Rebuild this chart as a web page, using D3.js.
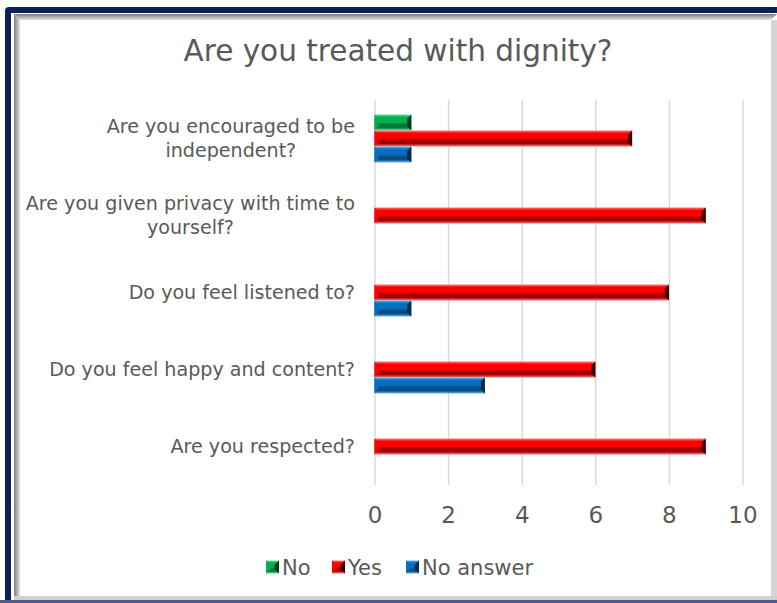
<!DOCTYPE html>
<html>
<head>
<meta charset="utf-8">
<script src="https://cdn.jsdelivr.net/npm/d3@7"></script>
<style>
  html, body { margin: 0; padding: 0; background: #ffffff; }
  svg { display: block; }
  text { font-family: "DejaVu Sans", sans-serif; fill: #595959; }
</style>
</head>
<body>
<svg id="chart" width="777" height="603"></svg>
<script>
// Survey answers per question
const categories = [
  "Are you encouraged to be\nindependent?",
  "Are you given privacy with time to\nyourself?",
  "Do you feel listened to?",
  "Do you feel happy and content?",
  "Are you respected?"
];
const seriesNames = ["No", "Yes", "No answer"];
const noValues = [1, 0, 0, 0, 0];
const yesValues = [7, 9, 8, 6, 9];
const noAnswerValues = [1, 0, 1, 3, 0];
const xTicks = [0, 2, 4, 6, 8, 10];
const titleText = "Are you treated with dignity?";

const seriesValues = [noValues, yesValues, noAnswerValues];
const palette = {
  "No":        { light: "#5fe09a", base: "#00b050", dark: "#007a3c", edge: "#003a1c" },
  "Yes":       { light: "#ff7a7a", base: "#ff0000", dark: "#a80000", edge: "#3a0000" },
  "No answer": { light: "#62b4ee", base: "#0070c0", dark: "#0b4c84", edge: "#0a2a48" }
};

const svg = d3.select("#chart");
const W = 777, H = 603;

// ---- frame: navy outer border with grey bevelled inner panel ----
const defs = svg.append("defs");
svg.append("rect").attr("x", 5).attr("y", 7).attr("width", 790).attr("height", 610)
  .attr("rx", 4).attr("fill", "#0b1f5c");
svg.append("rect").attr("x", 11).attr("y", 13).attr("width", 780).attr("height", 587)
  .attr("fill", "#ffffff");
const gTop = defs.append("linearGradient").attr("id", "frameTop").attr("x1", 0).attr("y1", 0).attr("x2", 0).attr("y2", 1);
gTop.append("stop").attr("offset", "0%").attr("stop-color", "#7a7a7a");
gTop.append("stop").attr("offset", "100%").attr("stop-color", "#e4e4e4");
const gLeft = defs.append("linearGradient").attr("id", "frameLeft").attr("x1", 0).attr("y1", 0).attr("x2", 1).attr("y2", 0);
gLeft.append("stop").attr("offset", "0%").attr("stop-color", "#7a7a7a");
gLeft.append("stop").attr("offset", "100%").attr("stop-color", "#e4e4e4");
svg.append("path").attr("d", "M14,14 L777,14 L771,20 L20,20 Z").attr("fill", "url(#frameTop)");
svg.append("path").attr("d", "M14,14 L20,20 L20,597 L14,600 Z").attr("fill", "url(#frameLeft)");
svg.append("rect").attr("x", 771).attr("y", 20).attr("width", 6).attr("height", 580).attr("fill", "#d6d6d6");
svg.append("rect").attr("x", 14).attr("y", 596).attr("width", 763).attr("height", 4).attr("fill", "#d0d0d0");
svg.append("rect").attr("x", 0).attr("y", 600).attr("width", W).attr("height", 3).attr("fill", "#4b5f8c");

// ---- scales ----
const x = d3.scaleLinear().domain([0, 10]).range([374.5, 742.5]);
const y = d3.scaleBand().domain(categories).range([100, 485]);
const groupH = 48;
const inner = d3.scaleBand().domain(seriesNames).range([0, groupH]);

// ---- title ----
svg.append("text").attr("x", 398).attr("y", 61).attr("text-anchor", "middle")
  .style("font-size", "29.5px").text(titleText);

// ---- vertical gridlines + tick labels ----
const xAxis = d3.axisBottom(x).tickValues(xTicks).tickSize(-(485 - 100)).tickFormat(d3.format("d"));
const axisG = svg.append("g").attr("transform", "translate(0,485)").call(xAxis);
axisG.select(".domain").remove();
axisG.selectAll(".tick line").attr("stroke", "#d9d9d9").attr("stroke-width", 1.5);
axisG.selectAll(".tick text").attr("fill", "#595959").style("font-size", "23px")
  .attr("font-family", null).attr("y", 30).attr("dy", "0.36em");

// ---- category labels: block right-aligned, wrapped lines centred ----
const catG = svg.append("g");
const labelRight = 355;
categories.forEach(c => {
  const lines = c.split("\n");
  const cy = y(c) + y.bandwidth() / 2;
  const lh = 24;
  const t = catG.append("text").attr("text-anchor", "middle").style("font-size", "19.1px");
  const spans = lines.map((ln, i) => t.append("tspan")
    .attr("y", cy + (i - (lines.length - 1) / 2) * lh)
    .attr("dy", "0.35em").text(ln));
  const widest = d3.max(spans, s => s.node().getComputedTextLength());
  spans.forEach(s => s.attr("x", labelRight - widest / 2));
});

// ---- bevelled bars ----
seriesNames.forEach(name => {
  const p = palette[name];
  const g = defs.append("linearGradient").attr("id", "grad-" + name.replace(/\s/g, ""))
    .attr("x1", 0).attr("y1", 0).attr("x2", 0).attr("y2", 1);
  g.append("stop").attr("offset", "0%").attr("stop-color", p.light);
  g.append("stop").attr("offset", "18%").attr("stop-color", p.base);
  g.append("stop").attr("offset", "50%").attr("stop-color", p.base);
  g.append("stop").attr("offset", "62%").attr("stop-color", p.dark);
  g.append("stop").attr("offset", "82%").attr("stop-color", p.dark);
  g.append("stop").attr("offset", "100%").attr("stop-color", p.light);
});

function bevelBar(sel, x0, x1, top, h, name, bev) {
  const p = palette[name];
  const fill = "url(#grad-" + name.replace(/\s/g, "") + ")";
  sel.append("rect").attr("x", x0).attr("y", top).attr("width", x1 - x0).attr("height", h).attr("fill", fill);
  // left bevel (lit)
  sel.append("path")
    .attr("d", `M${x0},${top} L${x0 + bev},${top + bev} L${x0 + bev},${top + h - bev} L${x0},${top + h} Z`)
    .attr("fill", p.base).attr("opacity", 0.9);
  // right bevel (shadow)
  sel.append("path")
    .attr("d", `M${x1},${top} L${x1 - bev},${top + bev} L${x1 - bev},${top + h - bev} L${x1},${top + h} Z`)
    .attr("fill", p.edge);
}

const barsG = svg.append("g");
seriesNames.forEach((name, si) => {
  categories.forEach((c, ci) => {
    const v = seriesValues[si][ci];
    if (!v) return;
    const cy = y(c) + y.bandwidth() / 2;
    const top = cy - groupH / 2 + inner(name);
    bevelBar(barsG, x(0), x(v), top, inner.bandwidth(), name, 4);
  });
});

// ---- legend ----
const legendItems = [
  { name: "No", x: 266 },
  { name: "Yes", x: 332 },
  { name: "No answer", x: 406 }
];
const legG = svg.append("g");
legendItems.forEach(it => {
  const ly = 567;
  bevelBar(legG, it.x, it.x + 13, ly - 6.5, 13, it.name, 4.5);
  legG.append("text").attr("x", it.x + 16).attr("y", ly).attr("dy", "0.36em")
    .style("font-size", "21px").text(it.name);
});
</script>
</body>
</html>
